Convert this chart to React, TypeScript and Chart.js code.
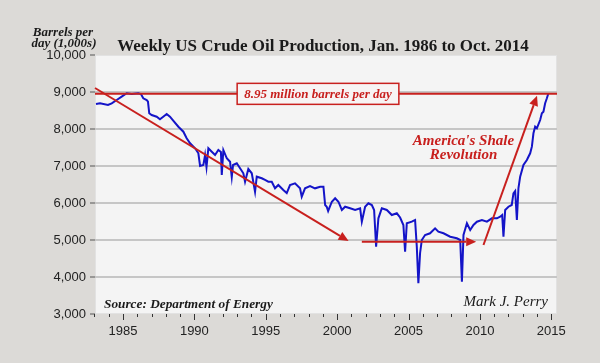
import React, { useEffect, useRef } from "react";
import { Chart, registerables } from "chart.js";

Chart.register(...registerables);

// Weekly US crude oil production (thousand barrels per day)
const years: number[] = [
  1983.11, 1983.39, 1983.95, 1984.21, 1984.56, 1984.91, 1985.26, 1985.61, 1986.07, 1986.26,
  1986.42, 1986.66, 1986.75, 1986.84, 1987.01, 1987.36, 1987.59, 1987.82, 1988.06, 1988.29,
  1988.52, 1988.88, 1989.23, 1989.46, 1989.70, 1990.05, 1990.28, 1990.40, 1990.63, 1990.75,
  1990.85, 1990.98, 1991.22, 1991.45, 1991.68, 1991.86, 1991.92, 1992.03, 1992.27, 1992.50,
  1992.62, 1992.71, 1992.97, 1993.20, 1993.43, 1993.55, 1993.78, 1994.02, 1994.25, 1994.37,
  1994.72, 1994.95, 1995.18, 1995.42, 1995.65, 1995.88, 1996.23, 1996.47, 1996.70, 1997.05,
  1997.40, 1997.52, 1997.75, 1998.10, 1998.45, 1998.81, 1999.04, 1999.16, 1999.27, 1999.37,
  1999.63, 1999.86, 2000.09, 2000.33, 2000.56, 2000.91, 2001.26, 2001.61, 2001.73, 2001.96,
  2002.19, 2002.43, 2002.59, 2002.73, 2002.89, 2003.13, 2003.48, 2003.83, 2004.18, 2004.41,
  2004.64, 2004.76, 2004.88, 2005.23, 2005.46, 2005.58, 2005.69, 2005.81, 2005.93, 2006.16,
  2006.51, 2006.86, 2007.09, 2007.45, 2007.92, 2008.38, 2008.62, 2008.74, 2008.85, 2009.09,
  2009.32, 2009.55, 2009.79, 2010.14, 2010.49, 2010.84, 2011.19, 2011.42, 2011.56, 2011.65,
  2011.77, 2012.00, 2012.23, 2012.35, 2012.47, 2012.59, 2012.70, 2012.82, 2013.05, 2013.29,
  2013.40, 2013.52, 2013.64, 2013.75, 2013.87, 2013.99, 2014.22, 2014.34, 2014.45, 2014.57,
  2014.69, 2014.80,
];
const production: number[] = [
  8676, 8695, 8649, 8695, 8784, 8873, 8965, 8946, 8965, 8946,
  8830, 8784, 8738, 8424, 8378, 8332, 8262, 8332, 8405, 8332,
  8224, 8062, 7927, 7749, 7614, 7478, 7343, 7000, 7027, 7297,
  6973, 7478, 7386, 7297, 7432, 7378, 6757, 7432, 7208, 7116,
  6703, 7027, 7073, 6938, 6803, 6576, 6919, 6803, 6305, 6711,
  6668, 6622, 6576, 6576, 6397, 6486, 6351, 6270, 6486, 6532,
  6397, 6170, 6397, 6459, 6397, 6441, 6441, 5946, 5900, 5784,
  6035, 6127, 6035, 5811, 5900, 5857, 5811, 5857, 5495, 5900,
  5992, 5946, 5811, 4819, 5586, 5857, 5811, 5676, 5722, 5608,
  5405, 4684, 5451, 5495, 5541, 4819, 3830, 4649, 5000, 5135,
  5181, 5316, 5224, 5181, 5089, 5046, 5000, 3873, 5135, 5451,
  5270, 5405, 5495, 5541, 5495, 5586, 5586, 5630, 5676, 5089,
  5811, 5900, 5946, 6262, 6324, 5541, 6405, 6711, 7027, 7162,
  7251, 7343, 7522, 7884, 8062, 8019, 8243, 8424, 8468, 8695,
  8830, 8965,
];

const yTicks: number[] = [3000, 4000, 5000, 6000, 7000, 8000, 9000, 10000];
const xTickYears: number[] = [
  1983, 1984, 1985, 1986, 1987, 1988, 1989, 1990, 1991, 1992, 1993, 1994, 1995, 1996, 1997, 1998,
  1999, 2000, 2001, 2002, 2003, 2004, 2005, 2006, 2007, 2008, 2009, 2010, 2011, 2012, 2013, 2014, 2015,
];
const xMin = 1983.04;
const xMax = 2015.4;

const referenceLevel = 8950;
const referenceLabel = "8.95 million barrels per day";
// arrows: [x1, y1, x2, y2] in data units
const arrowDecline: number[] = [1983.04, 9108, 2000.8, 4973];
const arrowFlat: number[] = [2001.73, 4955, 2009.74, 4955];
const arrowShale: number[] = [2010.25, 4865, 2014.0, 8900];
const shaleText: string[] = ["America's Shale", "Revolution"];
const shaleTextAt: number[] = [2008.85, 7676];

const titleText = "Weekly US Crude Oil Production, Jan. 1986 to Oct. 2014";
const unitText: string[] = ["Barrels per", "day (1,000s)"];
const sourceText = "Source: Department of Energy";
const authorText = "Mark J. Perry";

const RED = "#c8201e";
const BLUE = "#1414c8";
const SERIF = "'Liberation Serif', 'DejaVu Serif', serif";
const SANS = "'Liberation Sans', Arial, sans-serif";

function drawArrow(ctx: CanvasRenderingContext2D, x1: number, y1: number, x2: number, y2: number) {
  const ang = Math.atan2(y2 - y1, x2 - x1);
  const head = 10;
  const hw = 4.5;
  const bx = x2 - head * Math.cos(ang);
  const by = y2 - head * Math.sin(ang);
  ctx.beginPath();
  ctx.moveTo(x1, y1);
  ctx.lineTo(bx, by);
  ctx.stroke();
  ctx.beginPath();
  ctx.moveTo(x2, y2);
  ctx.lineTo(bx + hw * Math.sin(ang), by - hw * Math.cos(ang));
  ctx.lineTo(bx - hw * Math.sin(ang), by + hw * Math.cos(ang));
  ctx.closePath();
  ctx.fill();
}

const decorPlugin = {
  id: "decor",
  beforeDraw(chart: any) {
    const { ctx, chartArea: a, width, height } = chart;
    ctx.save();
    ctx.fillStyle = "#dcdad7";
    ctx.fillRect(0, 0, width, height);
    ctx.fillStyle = "#f4f4f4";
    ctx.fillRect(a.left, a.top, a.right - a.left, a.bottom - a.top);
    ctx.strokeStyle = "#e2e2e2";
    ctx.lineWidth = 1;
    ctx.strokeRect(a.left + 0.5, a.top + 0.5, a.right - a.left - 1, a.bottom - a.top - 1);
    ctx.restore();
  },
  afterDraw(chart: any) {
    const { ctx, chartArea: a } = chart;
    const xs = chart.scales.x;
    const ys = chart.scales.y;
    ctx.save();
    // x ticks (minor every year, major every 5 years)
    ctx.strokeStyle = "#333";
    ctx.lineWidth = 1;
    xTickYears.forEach((yr) => {
      const px = Math.round(xs.getPixelForValue(yr)) + 0.5;
      const len = yr % 5 === 0 ? 6 : 3;
      ctx.beginPath();
      ctx.moveTo(px, a.bottom);
      ctx.lineTo(px, a.bottom + len);
      ctx.stroke();
    });

    // reference line
    const ry = ys.getPixelForValue(referenceLevel);
    ctx.strokeStyle = RED;
    ctx.fillStyle = RED;
    ctx.lineWidth = 2;
    ctx.beginPath();
    ctx.moveTo(a.left, ry);
    ctx.lineTo(a.right, ry);
    ctx.stroke();

    // label box
    ctx.font = `italic bold 13px ${SERIF}`;
    const tw = ctx.measureText(referenceLabel).width;
    const cx = 318;
    const bw = tw + 14;
    const bh = 21;
    ctx.fillStyle = "#f7f4f4";
    ctx.fillRect(cx - bw / 2, ry - bh / 2, bw, bh);
    ctx.lineWidth = 1.5;
    ctx.strokeRect(cx - bw / 2, ry - bh / 2, bw, bh);
    ctx.fillStyle = RED;
    ctx.textAlign = "center";
    ctx.textBaseline = "middle";
    ctx.fillText(referenceLabel, cx, ry + 1);

    // arrows
    ctx.lineWidth = 2;
    [arrowDecline, arrowFlat, arrowShale].forEach((ar) => {
      drawArrow(
        ctx,
        xs.getPixelForValue(ar[0]),
        ys.getPixelForValue(ar[1]),
        xs.getPixelForValue(ar[2]),
        ys.getPixelForValue(ar[3])
      );
    });

    // shale text
    ctx.font = `italic bold 15px ${SERIF}`;
    const sx = xs.getPixelForValue(shaleTextAt[0]);
    const sy = ys.getPixelForValue(shaleTextAt[1]);
    ctx.fillText(shaleText[0], sx, sy);
    ctx.fillText(shaleText[1], sx, sy + 14);

    // title and texts
    ctx.fillStyle = "#1a1a1a";
    ctx.font = `bold 17px ${SERIF}`;
    ctx.textAlign = "center";
    ctx.textBaseline = "alphabetic";
    ctx.fillText(titleText, 323, 51);

    ctx.font = `italic bold 13px ${SERIF}`;
    ctx.fillText(unitText[0], 63, 35.5);
    ctx.fillText(unitText[1], 64, 46.5);

    ctx.font = `italic bold 13.3px ${SERIF}`;
    ctx.textAlign = "left";
    ctx.fillText(sourceText, 104, 308);

    ctx.font = `italic 15px ${SERIF}`;
    ctx.textAlign = "right";
    ctx.fillText(authorText, 548, 306);
    ctx.restore();
  },
};

export default function App() {
  const ref = useRef<HTMLCanvasElement | null>(null);
  useEffect(() => {
    document.body.style.margin = "0";
    if (!ref.current) return;
    const chart = new Chart(ref.current, {
      type: "line",
      data: {
        datasets: [
          {
            data: years.map((x, i) => ({ x, y: production[i] })),
            borderColor: BLUE,
            borderWidth: 2,
            pointRadius: 0,
            tension: 0,
            fill: false,
          },
        ],
      },
      options: {
        animation: false,
        responsive: false,
        maintainAspectRatio: false,
        layout: { padding: { top: 55, right: 43, left: 0, bottom: 0 } },
        plugins: { legend: { display: false }, tooltip: { enabled: false }, title: { display: false } },
        scales: {
          x: {
            type: "linear",
            min: xMin,
            max: xMax,
            afterBuildTicks: (s: any) => {
              s.ticks = xTickYears.filter((v) => v % 5 === 0).map((v) => ({ value: v }));
            },
            afterFit: (s: any) => {
              s.height = 49;
            },
            grid: { display: false, drawTicks: false },
            border: { display: false },
            ticks: {
              autoSkip: false,
              maxRotation: 0,
              padding: 10,
              color: "#222",
              font: { family: SANS, size: 13 },
              callback: (v: any) => String(v),
            },
          },
          y: {
            type: "linear",
            min: 3000,
            max: 10000,
            afterBuildTicks: (s: any) => {
              s.ticks = yTicks.map((v) => ({ value: v }));
            },
            afterFit: (s: any) => {
              s.width = 95;
            },
            grid: {
              color: (c: any) => (c.tick && (c.tick.value === 10000 || c.tick.value === 3000) ? "rgba(0,0,0,0)" : "#c6c6c6"),
              lineWidth: 2,
              tickColor: "#555",
              tickLength: 5,
              tickWidth: 1,
            },
            border: { display: false },
            ticks: {
              padding: 4,
              color: "#222",
              font: { family: SANS, size: 13 },
              callback: (v: any) => Number(v).toLocaleString("en-US"),
            },
          },
        },
      },
      plugins: [decorPlugin],
    } as any);
    return () => chart.destroy();
  }, []);
  return (
    <div style={{ width: 600, height: 363 }}>
      <canvas ref={ref} width={600} height={363} style={{ display: "block", width: 600, height: 363 }} />
    </div>
  );
}
